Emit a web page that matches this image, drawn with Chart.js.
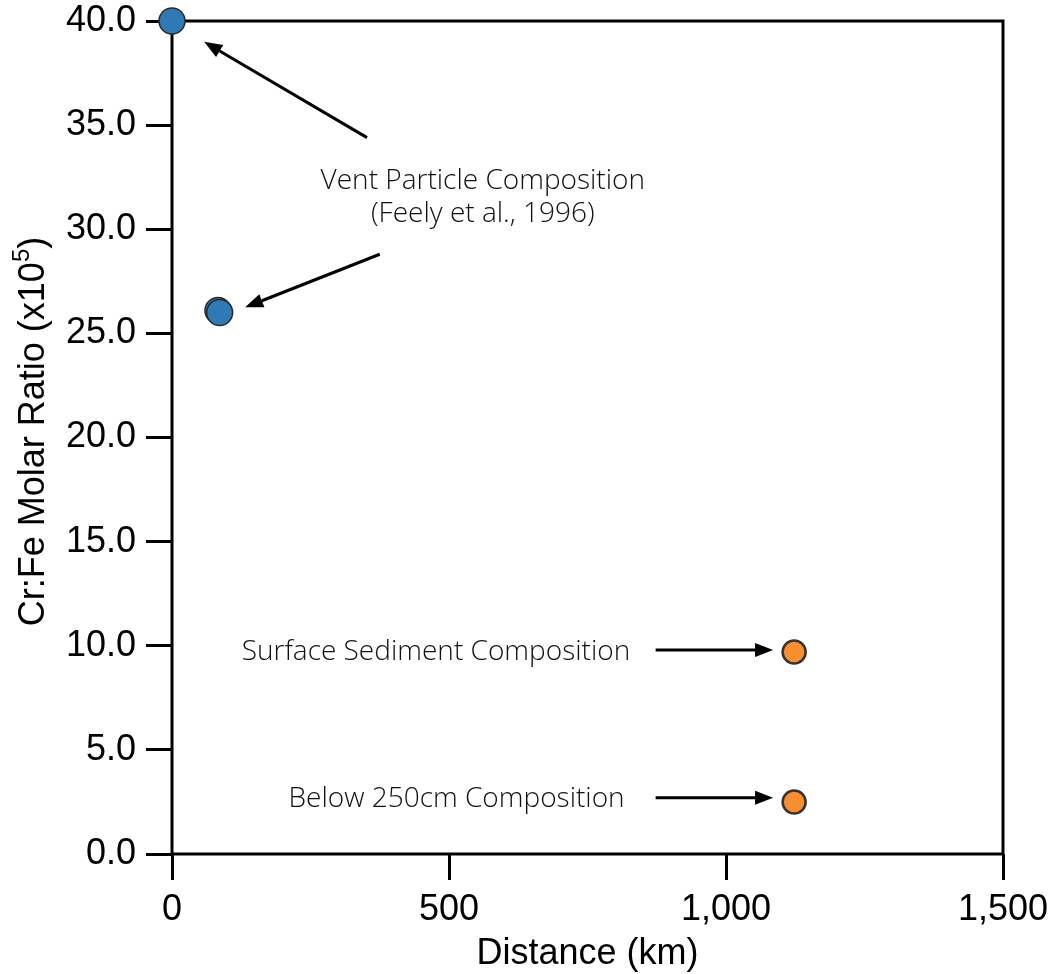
<!DOCTYPE html>
<html>
<head>
<meta charset="utf-8">
<script src="https://cdn.jsdelivr.net/npm/chart.js@4"></script>
<style>
  html, body { margin: 0; padding: 0; background: #fff; }
  #wrap { width: 1051px; height: 974px; }
</style>
</head>
<body>
<div id="wrap"><canvas id="chart"></canvas></div>
<script>
// vent particle points (Feely et al., 1996)
const ventX = [0, 83, 86];
const ventY = [40.0, 26.1, 26.0];
// sediment points
const sedX = [1123, 1123];
const sedY = [9.7, 2.5];

const xTicks = [0, 500, 1000, 1500];
const yTicks = [0, 5, 10, 15, 20, 25, 30, 35, 40];

// annotation text and arrows, in data units
const labels = [
  { text: "Vent Particle Composition", x: 561, y: 32.3, align: "center" },
  { text: "(Feely et al., 1996)", x: 561, y: 30.75, align: "center" },
  { text: "Surface Sediment Composition", x: 827, y: 9.7, align: "right" },
  { text: "Below 250cm Composition", x: 817, y: 2.65, align: "right" }
];
const arrows = [
  { x1: 352, y1: 34.4, x2: 58, y2: 39.0 },
  { x1: 375, y1: 28.8, x2: 132, y2: 26.25 },
  { x1: 873, y1: 9.8, x2: 1085, y2: 9.8 },
  { x1: 873, y1: 2.7, x2: 1085, y2: 2.7 }
];

const ink = "#000";
const family = "'Liberation Sans', Arial, sans-serif";

//draw the closed box, the notes and the y title
const boxPlugin = {
  id: "box",
  beforeDatasetsDraw(chart) {
    const { ctx, chartArea: a, scales } = chart;
    ctx.save();
    ctx.strokeStyle = ink;
    ctx.lineWidth = 3;
    ctx.strokeRect(a.left, a.top, a.right - a.left, a.bottom - a.top);

    ctx.fillStyle = "#111";
    ctx.font = "300 28px 'Open Sans', 'Liberation Sans', sans-serif";
    ctx.textBaseline = "middle";
    for (let l of labels) {
      ctx.textAlign = l.align;
      ctx.fillText(l.text, scales.x.getPixelForValue(l.x), scales.y.getPixelForValue(l.y));
    }

    for (let ar of arrows) {
      const x1 = scales.x.getPixelForValue(ar.x1), y1 = scales.y.getPixelForValue(ar.y1);
      const x2 = scales.x.getPixelForValue(ar.x2), y2 = scales.y.getPixelForValue(ar.y2);
      const ang = Math.atan2(y2 - y1, x2 - x1);
      const head = 18, half = 7;
      const bx = x2 - head * Math.cos(ang), by = y2 - head * Math.sin(ang);
      ctx.strokeStyle = ink;
      ctx.lineWidth = 3;
      ctx.beginPath();
      ctx.moveTo(x1, y1);
      ctx.lineTo(bx, by);
      ctx.stroke();
      ctx.fillStyle = ink;
      ctx.beginPath();
      ctx.moveTo(x2, y2);
      ctx.lineTo(bx + half * Math.sin(ang), by - half * Math.cos(ang));
      ctx.lineTo(bx - half * Math.sin(ang), by + half * Math.cos(ang));
      ctx.closePath();
      ctx.fill();
    }

    // y title with a real superscript
    const big = "36px " + family, small = "24px " + family;
    const parts = [["Cr:Fe Molar Ratio (x10", big, 0], ["5", small, -12], [")", big, 0]];
    let total = 0;
    for (let p of parts) { ctx.font = p[1]; total += ctx.measureText(p[0]).width; }
    ctx.translate(34, (a.top + a.bottom) / 2 - 6);
    ctx.rotate(-Math.PI / 2);
    ctx.fillStyle = ink;
    ctx.textAlign = "left";
    ctx.textBaseline = "middle";
    let x = -total / 2;
    for (let p of parts) {
      ctx.font = p[1];
      ctx.fillText(p[0], x, p[2]);
      x += ctx.measureText(p[0]).width;
    }
    ctx.restore();
  }
};

const tickFont = { family: family, size: 36 };
const titleFont = { family: family, size: 36, lineHeight: 1.1 };

new Chart(document.getElementById("chart"), {
  type: "scatter",
  plugins: [boxPlugin],
  data: {
    datasets: [
      {
        data: ventX.map((x, i) => ({ x: x, y: ventY[i] })),
        backgroundColor: "#2f7ab5",
        borderColor: "#2b2b2b",
        borderWidth: 1.5,
        pointRadius: 13,
        clip: false
      },
      {
        data: sedX.map((x, i) => ({ x: x, y: sedY[i] })),
        backgroundColor: "#f98e2e",
        borderColor: "#333",
        borderWidth: 2.5,
        pointRadius: 11.5,
        clip: false
      }
    ]
  },
  options: {
    responsive: true,
    maintainAspectRatio: false,
    animation: false,
    layout: { padding: { top: 21, right: 48, left: 0, bottom: 0 } },
    plugins: { legend: { display: false }, tooltip: { enabled: false } },
    scales: {
      x: {
        type: "linear",
        min: 0,
        max: 1500,
        afterBuildTicks: (s) => { s.ticks = xTicks.map(v => ({ value: v })); },
        afterFit: (s) => { s.height = 120; s.paddingLeft = 0; s.paddingRight = 0; },
        border: { display: false },
        grid: { drawOnChartArea: false, drawTicks: true, tickLength: 26, tickColor: ink, tickWidth: 3 },
        ticks: {
          color: ink,
          font: tickFont,
          padding: 8,
          maxRotation: 0,
          callback: (v) => v.toLocaleString("en-US")
        },
        title: { display: true, text: "Distance (km)", color: ink, font: titleFont, padding: { top: 0, bottom: 0 } }
      },
      y: {
        type: "linear",
        min: 0,
        max: 40,
        afterBuildTicks: (s) => { s.ticks = yTicks.map(v => ({ value: v })); },
        afterFit: (s) => { s.width = 172; s.paddingTop = 0; s.paddingBottom = 0; },
        border: { display: false },
        grid: { drawOnChartArea: false, drawTicks: true, tickLength: 26, tickColor: ink, tickWidth: 3 },
        ticks: {
          color: ink,
          font: tickFont,
          padding: 10,
          callback: (v) => v.toFixed(1)
        },
        title: { display: false }
      }
    }
  }
});
</script>
</body>
</html>
